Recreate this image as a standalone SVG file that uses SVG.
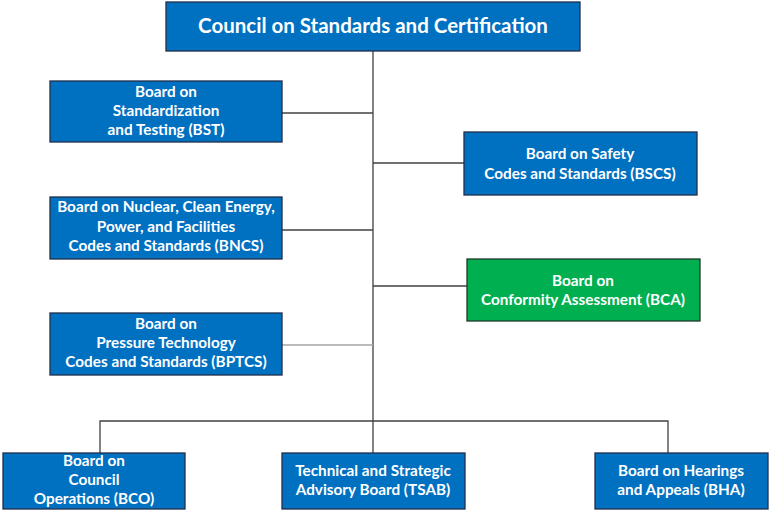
<svg xmlns="http://www.w3.org/2000/svg" width="769" height="510" viewBox="0 0 769 510">
<style>
.box{fill:#0070C0;stroke:#1F2F4A;stroke-width:1.3}
.green{fill:#00B050;stroke:#1F3A2A;stroke-width:1.3}
text{font-family:Lato,"Open Sans","Liberation Sans",sans-serif;font-weight:bold;fill:#FFFFFF;text-anchor:middle}
.t{font-size:15.3px}
.title{font-size:20.5px}
.c{fill:none;stroke:#404040;stroke-width:1.3}
.cl{fill:none;stroke:#A6A6A6;stroke-width:1.3}
</style>
<rect width="769" height="510" fill="#FFFFFF"/>
<g id="connectors">
<path class="c" d="M373 51V421"/>
<path class="c" d="M282 113H373"/>
<path class="c" d="M282 230H373"/>
<path class="cl" d="M282 345H373"/>
<path class="c" d="M373 163H464"/>
<path class="c" d="M373 286H467"/>
<path class="c" d="M100 453V421H668V453"/>
<path class="c" d="M373 421V453"/>
</g>
<g id="council">
<rect class="box" x="166" y="2" width="414" height="49"/>
<text class="title" x="373" y="33">Council on Standards and Certification</text>
</g>
<g id="bst">
<rect class="box" x="50" y="81" width="232" height="61"/>
<text class="t" x="166" y="97">Board on</text>
<text class="t" x="166" y="116">Standardization</text>
<text class="t" x="166" y="135">and Testing (BST)</text>
</g>
<g id="bncs">
<rect class="box" x="50" y="197" width="232" height="62"/>
<text class="t" x="166" y="212">Board on Nuclear, Clean Energy,</text>
<text class="t" x="166" y="232">Power, and Facilities</text>
<text class="t" x="166" y="251">Codes and Standards (BNCS)</text>
</g>
<g id="bptcs">
<rect class="box" x="50" y="313" width="232" height="62"/>
<text class="t" x="166" y="329">Board on</text>
<text class="t" x="166" y="348">Pressure Technology</text>
<text class="t" x="166" y="367">Codes and Standards (BPTCS)</text>
</g>
<g id="bscs">
<rect class="box" x="464" y="132" width="233" height="63"/>
<text class="t" x="580" y="159">Board on Safety</text>
<text class="t" x="580" y="179">Codes and Standards (BSCS)</text>
</g>
<g id="bca">
<rect class="green" x="467" y="259" width="233" height="62"/>
<text class="t" x="583" y="286">Board on</text>
<text class="t" x="583" y="305">Conformity Assessment (BCA)</text>
</g>
<g id="bco">
<rect class="box" x="3" y="453" width="182" height="56"/>
<text class="t" x="94" y="466">Board on</text>
<text class="t" x="94" y="485">Council</text>
<text class="t" x="94" y="504">Operations (BCO)</text>
</g>
<g id="tsab">
<rect class="box" x="282" y="453" width="183" height="56"/>
<text class="t" x="373" y="476">Technical and Strategic</text>
<text class="t" x="373" y="495">Advisory Board (TSAB)</text>
</g>
<g id="bha">
<rect class="box" x="595" y="453" width="173" height="56"/>
<text class="t" x="681" y="476">Board on Hearings</text>
<text class="t" x="681" y="495">and Appeals (BHA)</text>
</g>
</svg>
